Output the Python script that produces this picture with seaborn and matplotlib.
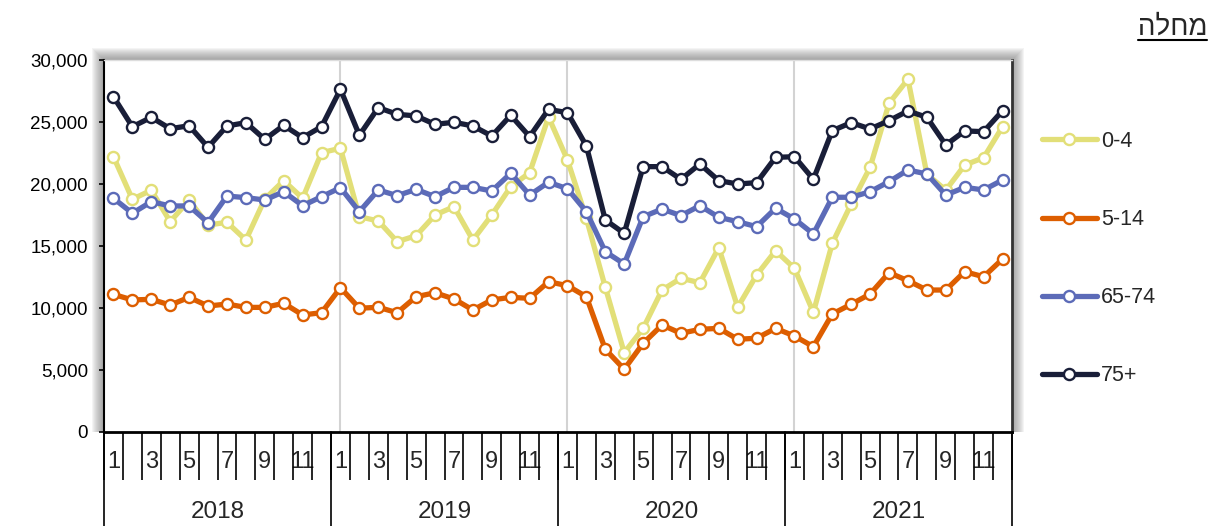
import numpy as np
import pandas as pd
import matplotlib
matplotlib.use("Agg")
import matplotlib.pyplot as plt
import matplotlib.transforms as mtransforms
from matplotlib.lines import Line2D
from matplotlib.patches import Rectangle
import seaborn as sns

# data (monthly, Jan 2018 - Dec 2021)
years = ["2018", "2019", "2020", "2021"]
months = list(range(1, 13))
groups = ["0-4", "5-14", "65-74", "75+"]
title_he = "מחלה"

age_0_4 = [22200, 18770, 19500, 16960, 18700, 16690, 16910, 15480, 18790, 20270, 18850, 22530,
           22880, 17360, 17020, 15350, 15830, 17500, 18170, 15480, 17500, 19780, 20910, 25400,
           21940, 17230, 11670, 6400, 8360, 11450, 12400, 12040, 14860, 10060, 12660, 14620,
           13200, 9650, 15220, 18390, 21350, 26510, 28450, 20800, 19500, 21530, 22120, 24620]
age_5_14 = [11100, 10650, 10700, 10240, 10860, 10160, 10320, 10050, 10050, 10380, 9440, 9620,
            11640, 9980, 10060, 9620, 10910, 11230, 10730, 9840, 10650, 10860, 10780, 12120,
            11800, 10910, 6670, 5060, 7150, 8630, 7960, 8280, 8360, 7480, 7560, 8360,
            7740, 6880, 9520, 10300, 11130, 12850, 12200, 11450, 11450, 12930, 12520, 13950]
age_65_74 = [18850, 17640, 18575, 18230, 18230, 16880, 19030, 18900, 18710, 19380, 18250, 18980,
             19700, 17770, 19520, 19060, 19570, 18980, 19730, 19730, 19440, 20860, 19110, 20140,
             19620, 17770, 14540, 13550, 17360, 17980, 17450, 18250, 17320, 16960, 16560, 18040,
             17180, 15970, 18930, 18930, 19380, 20190, 21130, 20810, 19110, 19730, 19520, 20320]
age_75 = [27040, 24620, 25380, 24460, 24700, 22960, 24680, 24950, 23600, 24730, 23740, 24620,
          27640, 23930, 26160, 25620, 25490, 24810, 24980, 24680, 23870, 25540, 23820, 26020,
          25750, 23070, 17100, 16020, 21400, 21400, 20380, 21610, 20270, 20000, 20110, 22150,
          22200, 20380, 24300, 24950, 24440, 25110, 25890, 25380, 23150, 24280, 24220, 25910]

colors = ["#E2DF78", "#DD5E00", "#5C6BB8", "#191E38"]

df = pd.DataFrame({"year": np.repeat(years, 12), "month": np.tile(months, len(years))})
df["t"] = np.arange(len(df))
series = [age_0_4, age_5_14, age_65_74, age_75]
for g, vals in zip(groups, series):
    df[g] = vals

sns.set_style("white")
plt.rcParams["font.family"] = ["Liberation Sans", "DejaVu Sans"]

W, H = 1218, 526
fig = plt.figure(figsize=(W / 100, H / 100), dpi=100)
ax = fig.add_axes([104 / W, 1 - 432 / H, 908 / W, 372 / H])

# soft shadow around the plot area (top, left, right)
for k in range(1, 13):
    fig.patches.append(Rectangle(((104 - k) / W, 1 - 432 / H), (908 + 2 * k) / W, (372 + k) / H,
                                 transform=fig.transFigure, color="#707070", alpha=0.07,
                                 lw=0, zorder=-5))

# light vertical gridlines at each January
for t in df.loc[(df["month"] == 1) & (df["year"] != years[0]), "t"]:
    ax.axvline(t, color="#D3D3D3", lw=1.5, zorder=0)

for g, c in zip(groups, colors):
    sns.lineplot(x=df["t"], y=df[g], ax=ax, color=c, lw=3.8, marker="o", ms=8,
                 mfc="white", mec=c, mew=1.7, zorder=3)

ax.set_xlim(-0.5, len(df) - 0.5)
ax.set_ylim(0, 30000)
ax.set_yticks(range(0, 30001, 5000))
ax.yaxis.set_major_formatter(matplotlib.ticker.StrMethodFormatter("{x:,.0f}"))
ax.tick_params(axis="y", length=3.6, width=1.2, direction="out", pad=8, labelsize=13.5,
               left=True, colors="black")
ax.set_xlabel("")
ax.set_ylabel("")

# month labels (odd months) and month separators
odd = df[df["month"] % 2 == 1]
ax.set_xticks(odd["t"], labels=odd["month"].astype(str))
ax.set_xticks(np.arange(-0.5, len(df), 1), minor=True)
ax.tick_params(axis="x", which="major", length=0, pad=14, labelsize=17)
ax.tick_params(axis="x", which="minor", length=34.5, width=1.2, direction="out",
               bottom=True, color="black")

trans = mtransforms.blended_transform_factory(ax.transData, ax.transAxes)
for i, y in enumerate(years):
    sub = df[df["year"] == y]
    ax.text(sub["t"].mean(), -0.215, y, transform=trans, ha="center", va="center", fontsize=17.5)
    ax.plot([sub["t"].min() - 0.5] * 2, [0, -0.3], transform=trans, color="black", lw=1.2,
            clip_on=False)
ax.plot([len(df) - 0.5] * 2, [0, -0.3], transform=trans, color="black", lw=1.2, clip_on=False)

for side in ["left", "bottom", "right", "top"]:
    ax.spines[side].set_visible(True)
ax.spines["left"].set_color("black")
ax.spines["left"].set_linewidth(1.5)
ax.spines["bottom"].set_color("black")
ax.spines["bottom"].set_linewidth(2)
ax.spines["right"].set_color("#333333")
ax.spines["right"].set_linewidth(2)
ax.spines["top"].set_color("#DDDDDD")
ax.spines["top"].set_linewidth(1)

handles = [Line2D([], [], color=c, lw=3.8, marker="o", ms=8, mfc="white", mec=c, mew=1.7)
           for c in colors]
if ax.get_legend() is not None:
    ax.get_legend().remove()
fig.legend(handles, groups, loc="upper left", bbox_to_anchor=(1042 / W, 1 - 131 / H),
           frameon=False, fontsize=15.5, handlelength=2.55, handletextpad=0.2,
           labelspacing=2.65, borderpad=0, borderaxespad=0)

# Hebrew title, drawn right-to-left, underlined
txt = fig.text(1207 / W, 1 - 35 / H, title_he[::-1], ha="right", va="baseline", fontsize=20)
fig.canvas.draw()
bb = txt.get_window_extent().transformed(fig.transFigure.inverted())
fig.add_artist(Line2D([bb.x0, bb.x1], [1 - 40 / H] * 2, transform=fig.transFigure,
                      color="black", lw=1.5))

fig.savefig("out.png", dpi=100)
